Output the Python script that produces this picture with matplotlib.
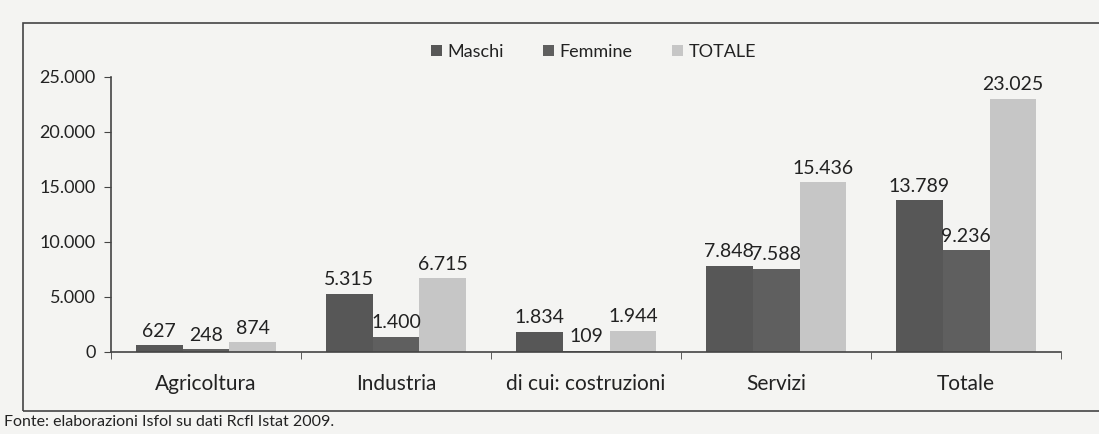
import matplotlib
matplotlib.use("Agg")
import matplotlib.pyplot as plt
import numpy as np
from matplotlib.patches import Rectangle

categories = ["Agricoltura", "Industria", "di cui: costruzioni", "Servizi", "Totale"]
series_names = ["Maschi", "Femmine", "TOTALE"]
maschi = [627, 5315, 1834, 7848, 13789]
femmine = [248, 1400, 109, 7588, 9236]
totale = [874, 6715, 1944, 15436, 23025]
yticks = [0, 5000, 10000, 15000, 20000, 25000]
ytick_labels = ["0", "5.000", "10.000", "15.000", "20.000", "25.000"]

colors = ["#575757", "#5f5f5f", "#c6c6c6"]
bg = "#f4f4f2"
plt.rcParams['font.family'] = ['Lato', 'DejaVu Sans']

fig = plt.figure(figsize=(10.99, 4.34), dpi=100)
fig.patch.set_facecolor(bg)
ax = fig.add_axes([0.101, 0.189, 0.8645, 0.6336])
ax.set_facecolor(bg)

# outer chart frame
fig.patches.append(Rectangle((0.021, 0.053), 0.99, 0.894, transform=fig.transFigure,
                             fill=False, edgecolor="#444444", linewidth=1.2))

x = np.arange(len(categories))
w = 0.247
fmt = lambda v: f"{v:,}".replace(",", ".")
for i, (vals, c, name) in enumerate(zip([maschi, femmine, totale], colors, series_names)):
    pos = x + (i - 1) * w
    ax.bar(pos, vals, width=w, color=c, label=name, zorder=2)
    for p, v in zip(pos, vals):
        ax.text(p, v + 500, fmt(v), ha="center", va="bottom", fontsize=14, color="#222222")

ax.set_xlim(-0.5, len(categories) - 0.5)
ax.set_ylim(0, 25000)
ax.set_yticks(yticks)
ax.set_yticklabels(ytick_labels, fontsize=13, color="#222222")
ax.set_xticks(x)
ax.set_xticklabels(categories, fontsize=15, color="#222222")
ax.set_xticks(np.arange(len(categories) + 1) - 0.5, minor=True)
ax.tick_params(axis="x", which="major", length=0, pad=16)
ax.tick_params(axis="x", which="minor", length=5, color="#444444")
ax.tick_params(axis="y", length=5, color="#444444", pad=6)
for s in ["top", "right"]:
    ax.spines[s].set_visible(False)
for s in ["left", "bottom"]:
    ax.spines[s].set_color("#444444")
    ax.spines[s].set_linewidth(1.2)

leg = fig.legend(loc="center", bbox_to_anchor=(0.54, 0.88), ncol=3, frameon=False,
                 fontsize=13, handlelength=0.6, handleheight=0.6, handletextpad=0.3,
                 columnspacing=2.2)
for t in leg.get_texts():
    t.set_color("#222222")

fig.text(0.004, 0.027, "Fonte: elaborazioni Isfol su dati Rcfl Istat 2009.", fontsize=11.5,
         color="#222222", ha="left", va="center")

fig.savefig("out.png", dpi=100, facecolor=bg)
